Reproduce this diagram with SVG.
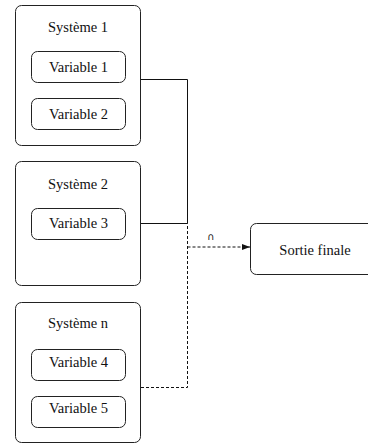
<svg xmlns="http://www.w3.org/2000/svg" width="368" height="443" viewBox="0 0 368 443">
<style>
.sys{fill:#fff;stroke:#222;stroke-width:1}
.var{fill:#fff;stroke:#222;stroke-width:1}
.t{font-family:"Liberation Serif","Times New Roman",serif;font-size:14.5px;fill:#111;text-anchor:middle}
.ln{fill:none;stroke:#111;stroke-width:1}
.dash{fill:none;stroke:#111;stroke-width:1;stroke-dasharray:3 2}
</style>
<defs>
<marker id="ah" viewBox="0 0 8 6" refX="8" refY="3" markerWidth="8" markerHeight="6" orient="auto" markerUnits="userSpaceOnUse">
<path d="M0,0 L8,3 L0,6 z" fill="#111"/>
</marker>
</defs>
<rect width="368" height="443" fill="#fff"/>
<g id="connectors">
<polyline class="ln" points="141,79.5 187.5,79.5 187.5,223.5 141,223.5"/>
<polyline class="dash" points="141,387.5 187.5,387.5 187.5,223.5"/>
<line class="dash" x1="187.5" y1="247" x2="250" y2="247" marker-end="url(#ah)"/>
<text x="211" y="240" font-family="DejaVu Sans,sans-serif" font-size="10" text-anchor="middle" fill="#111">∩</text>
</g>
<g id="systeme1">
<rect class="sys" x="15.5" y="5.5" width="125" height="140" rx="6"/>
<text class="t" x="78" y="32">Système 1</text>
</g>
<g id="variable1">
<rect class="var" x="31.5" y="51.5" width="94" height="31" rx="6"/>
<text class="t" x="78.5" y="72">Variable 1</text>
</g>
<g id="variable2">
<rect class="var" x="31.5" y="98.5" width="94" height="31" rx="6"/>
<text class="t" x="78.5" y="119">Variable 2</text>
</g>
<g id="systeme2">
<rect class="sys" x="15.5" y="161.5" width="125" height="124" rx="6"/>
<text class="t" x="78" y="189">Système 2</text>
</g>
<g id="variable3">
<rect class="var" x="31.5" y="208.5" width="94" height="31" rx="6"/>
<text class="t" x="78.5" y="227.5">Variable 3</text>
</g>
<g id="systemen">
<rect class="sys" x="15.5" y="302.5" width="125" height="140" rx="6"/>
<text class="t" x="78" y="328">Système n</text>
</g>
<g id="variable4">
<rect class="var" x="31.5" y="349.5" width="94" height="31" rx="6"/>
<text class="t" x="78.5" y="367">Variable 4</text>
</g>
<g id="variable5">
<rect class="var" x="31.5" y="396.5" width="94" height="31" rx="6"/>
<text class="t" x="78.5" y="412.5">Variable 5</text>
</g>
<g id="sortie">
<rect class="sys" x="250.5" y="223.5" width="130" height="51" rx="6"/>
<text class="t" x="315" y="255">Sortie finale</text>
</g>
</svg>
